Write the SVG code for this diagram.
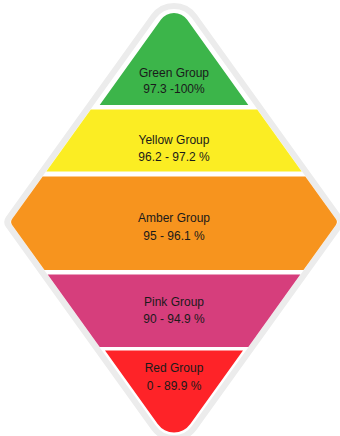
<svg xmlns="http://www.w3.org/2000/svg" width="340" height="436" viewBox="0 0 340 436">
  <style>
    .lbl { font-family: "Liberation Sans", Arial, sans-serif; font-size: 12px; fill: #1a1a1a; text-anchor: middle; }
  </style>
  <rect width="340" height="436" fill="#ffffff"/>
  <g id="frame">
    <path d="M153.7,16.3 A25,25 0 0 1 194.3,16.3 L339.5,218.5 A6,6 0 0 1 339.5,225.5 L194.3,427.7 A25,25 0 0 1 153.7,427.7 L8.5,225.5 A6,6 0 0 1 8.5,218.5 Z" fill="#ffffff" stroke="#ececec" stroke-width="6" stroke-linejoin="round"/>
  </g>
  <g id="green">
    <path d="M161,19.6 A16,16 0 0 1 187,19.6 L248.3,105 L99.7,105 Z" fill="#3cb54a"/>
    <text class="lbl" x="174" y="76.5">Green Group</text>
    <text class="lbl" x="174" y="93">97.3 -100%</text>
  </g>
  <g id="yellow">
    <path d="M90.8,109.5 L257.2,109.5 L301.7,171.5 L46.3,171.5 Z" fill="#fbed23"/>
    <text class="lbl" x="174" y="144">Yellow Group</text>
    <text class="lbl" x="174" y="161">96.2 - 97.2 %</text>
  </g>
  <g id="amber">
    <path d="M42.7,176.5 L305.3,176.5 L335.9,219.1 A5,5 0 0 1 335.9,224.9 L303.5,270 L44.5,270 L12.1,224.9 A5,5 0 0 1 12.1,219.1 Z" fill="#f7941e"/>
    <text class="lbl" x="174" y="222">Amber Group</text>
    <text class="lbl" x="174" y="240">95 - 96.1 %</text>
  </g>
  <g id="pink">
    <path d="M47.7,274.5 L300.3,274.5 L248.3,347 L99.7,347 Z" fill="#d63e7c"/>
    <text class="lbl" x="174" y="305.5">Pink Group</text>
    <text class="lbl" x="174" y="323">90 - 94.9 %</text>
  </g>
  <g id="red">
    <path d="M105,350.5 L243,350.5 L190.3,424 A20,20 0 0 1 157.7,424 Z" fill="#fe2328"/>
    <text class="lbl" x="174" y="372">Red Group</text>
    <text class="lbl" x="174" y="390">0 - 89.9 %</text>
  </g>
  <g id="connectors"/>
</svg>
